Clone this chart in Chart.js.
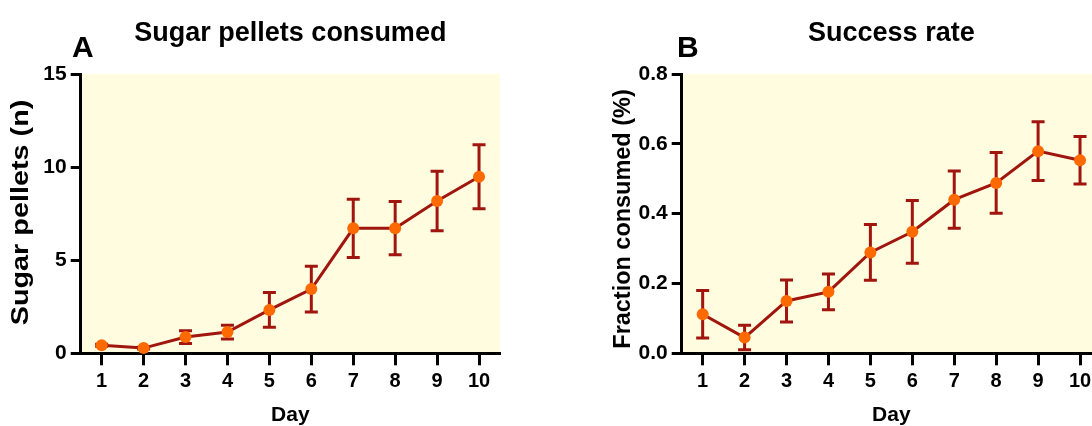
<!DOCTYPE html>
<html><head><meta charset="utf-8">
<script src="https://cdn.jsdelivr.net/npm/chart.js@4.4.0/dist/chart.umd.min.js"></script>
<style>
html,body{margin:0;padding:0;background:#fff;overflow:hidden;width:1092px;height:426px;}
#wrap{position:relative;width:1092px;height:426px;overflow:hidden;}
canvas{position:absolute;top:0;}
</style></head><body>
<div id="wrap">
<canvas id="cA" width="546" height="426" style="left:0px;width:546px;height:426px"></canvas>
<canvas id="cB" width="546" height="426" style="left:601px;width:546px;height:426px"></canvas>
</div>
<script>
// ---- data ----
const days = ['1','2','3','4','5','6','7','8','9','10'];
const pelletsMean = [0.43, 0.28, 0.87, 1.14, 2.33, 3.45, 6.71, 6.72, 8.18, 9.48];
const pelletsErr  = [0.05, 0.05, 0.34, 0.37, 0.93, 1.23, 1.57, 1.43, 1.60, 1.72];
const successMean = [0.112, 0.045, 0.150, 0.176, 0.289, 0.348, 0.440, 0.488, 0.579, 0.553];
const successErr  = [0.068, 0.035, 0.060, 0.051, 0.080, 0.090, 0.082, 0.087, 0.084, 0.068];
const pelletsTicks = [0, 5, 10, 15];
const successTicks = [0, 0.2, 0.4, 0.6, 0.8];

const FONT = '"Liberation Sans", Arial, Helvetica, sans-serif';
Chart.defaults.font.family = FONT;
Chart.defaults.color = '#000';

const LINE = '#A0150E';
const DOT = '#FF6A00';
const BG = '#FFFCE0';

function makeChart(id, mean, err, yTicks, yTitle, yt, title, letter, letterX, fmt) {
  const plugins = [{
    id: 'bg',
    beforeDraw(chart) {
      const {ctx, chartArea: a} = chart;
      ctx.save();
      ctx.fillStyle = BG;
      ctx.fillRect(a.left, a.top, a.right - a.left, a.bottom - a.top);
      ctx.restore();
    }
  }, {
    id: 'errbars',
    beforeDatasetsDraw(chart) {
      const {ctx, scales: {x, y}} = chart;
      ctx.save();
      ctx.strokeStyle = LINE;
      ctx.lineWidth = 3;
      mean.forEach((m, i) => {
        const px = x.getPixelForValue(i);
        const yTop = y.getPixelForValue(m + err[i]);
        const yBot = y.getPixelForValue(Math.max(0, m - err[i]));
        ctx.beginPath();
        ctx.moveTo(px, yTop); ctx.lineTo(px, yBot);
        ctx.moveTo(px - 6.5, yTop); ctx.lineTo(px + 6.5, yTop);
        ctx.moveTo(px - 6.5, yBot); ctx.lineTo(px + 6.5, yBot);
        ctx.stroke();
      });
      ctx.restore();
    }
  }, {
    id: 'texts',
    afterDraw(chart) {
      const {ctx, chartArea: a} = chart;
      ctx.save();
      ctx.fillStyle = '#000';
      ctx.textBaseline = 'alphabetic';
      ctx.textAlign = 'center';
      ctx.font = 'bold 27px ' + FONT;
      ctx.fillText(title, (a.left + a.right) / 2, 40.5);
      ctx.textAlign = 'left';
      ctx.font = 'bold 30px ' + FONT;
      ctx.fillText(letter, letterX, 57);
      // rotated y-axis title
      ctx.translate(yt.x, yt.y);
      ctx.rotate(-Math.PI / 2);
      ctx.scale(yt.stretch, 1);
      ctx.textAlign = 'center';
      ctx.textBaseline = 'middle';
      ctx.font = 'bold ' + yt.size + 'px ' + FONT;
      ctx.fillText(yTitle, 0, 0);
      ctx.restore();
    }
  }];

  return new Chart(document.getElementById(id), {
    type: 'line',
    data: {
      labels: days,
      datasets: [{
        data: mean,
        borderColor: LINE,
        borderWidth: 3,
        tension: 0,
        pointRadius: 6,
        pointBackgroundColor: DOT,
        pointBorderColor: DOT,
        pointBorderWidth: 0,
        clip: false
      }]
    },
    options: {
      responsive: false,
      animation: false,
      events: [],
      layout: {padding: {top: 74, right: 46, left: 0, bottom: 0}},
      plugins: {legend: {display: false}, tooltip: {enabled: false}, title: {display: false}},
      scales: {
        x: {
          type: 'category',
          offset: true,
          grid: {display: true, drawOnChartArea: false, drawTicks: true, tickLength: 12, tickWidth: 3, tickColor: '#000', offset: false},
          border: {display: true, width: 3, color: '#000'},
          ticks: {color: '#000', font: {size: 20, weight: 'bold'}, padding: 4, maxRotation: 0, autoSkip: false},
          title: {display: true, text: 'Day', color: '#000', font: {size: 21, weight: 'bold', lineHeight: 1.0}, padding: {top: 0, bottom: 0}},
          afterFit(s) { s.height = 72.7; }
        },
        y: {
          type: 'linear',
          min: yTicks[0],
          max: yTicks[yTicks.length - 1],
          afterBuildTicks(s) { s.ticks = yTicks.map(v => ({value: v})); },
          grid: {display: true, drawOnChartArea: false, drawTicks: true, tickLength: 10, tickWidth: 3, tickColor: '#000'},
          border: {display: true, width: 3, color: '#000'},
          ticks: {color: '#000', font: {size: 21, weight: 'bold'}, padding: 4, callback: v => fmt(v)},
          title: {display: false},
          afterFit(s) { s.width = 80.7; }
        }
      }
    },
    plugins
  });
}

makeChart('cA', pelletsMean, pelletsErr, pelletsTicks, 'Sugar pellets (n)', {x: 21.5, y: 212.5, size: 24, stretch: 1.2}, 'Sugar pellets consumed', 'A', 72, v => String(v));
makeChart('cB', successMean, successErr, successTicks, 'Fraction consumed (%)', {x: 22.5, y: 219, size: 23, stretch: 1.02}, 'Success rate', 'B', 76, v => Number(v).toFixed(1));
</script>
</body></html>
